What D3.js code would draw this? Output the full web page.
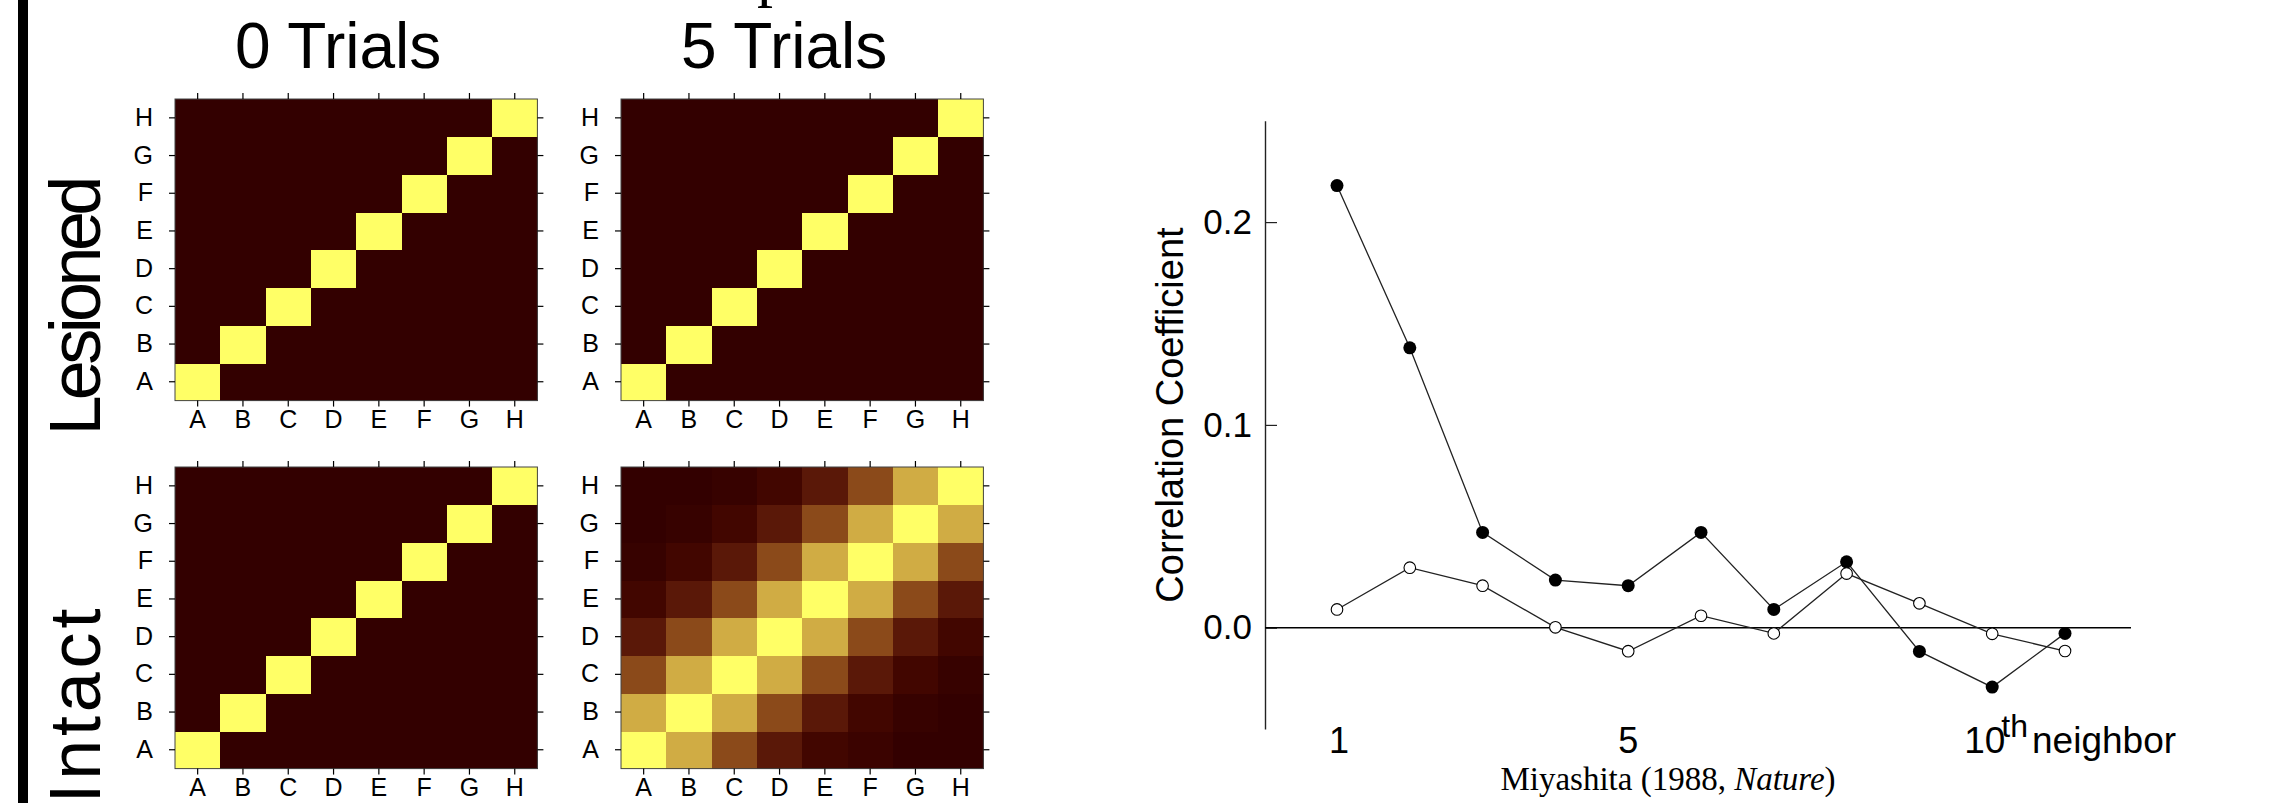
<!DOCTYPE html>
<html>
<head>
<meta charset="utf-8">
<script src="https://cdn.jsdelivr.net/npm/d3@7"></script>
<style>
  html, body { margin: 0; padding: 0; background: #fff; }
  svg { display: block; }
  text { font-family: "Liberation Sans", Arial, sans-serif; fill: #000; }
</style>
</head>
<body>
<svg id="chart" width="2272" height="803"></svg>
<script>
// stimulus labels, rows listed bottom (A) to top (H)
const stimuli = ["A", "B", "C", "D", "E", "F", "G", "H"];

// correlation after 0 trials / lesioned network: only the diagonal is active
const identityMatrix = [
  [1, 0, 0, 0, 0, 0, 0, 0],
  [0, 1, 0, 0, 0, 0, 0, 0],
  [0, 0, 1, 0, 0, 0, 0, 0],
  [0, 0, 0, 1, 0, 0, 0, 0],
  [0, 0, 0, 0, 1, 0, 0, 0],
  [0, 0, 0, 0, 0, 1, 0, 0],
  [0, 0, 0, 0, 0, 0, 1, 0],
  [0, 0, 0, 0, 0, 0, 0, 1]
];

// intact network after 5 trials (row A first)
const intact5Matrix = [
  [1.0, 0.8, 0.6, 0.4, 0.2, 0.1, 0.0, 0.0],
  [0.8, 1.0, 0.8, 0.6, 0.4, 0.2, 0.05, 0.0],
  [0.6, 0.8, 1.0, 0.8, 0.6, 0.4, 0.2, 0.05],
  [0.4, 0.6, 0.8, 1.0, 0.8, 0.6, 0.4, 0.2],
  [0.2, 0.4, 0.6, 0.8, 1.0, 0.8, 0.6, 0.4],
  [0.05, 0.2, 0.4, 0.6, 0.8, 1.0, 0.8, 0.6],
  [0.0, 0.05, 0.2, 0.4, 0.6, 0.8, 1.0, 0.8],
  [0.0, 0.0, 0.05, 0.2, 0.4, 0.6, 0.8, 1.0]
];

const panelTitles = ["0 Trials", "5 Trials"];
const conditionLabels = ["Lesioned", "Intact"];

// Miyashita neighbor correlations
const neighbors = [1, 2, 3, 4, 5, 6, 7, 8, 9, 10, 11];
const learnedCorr = [0.218, 0.138, 0.047, 0.0235, 0.0207, 0.047, 0.009, 0.0325, -0.0117, -0.0293, -0.0028];
const newCorr = [0.009, 0.0296, 0.0207, 0.0002, -0.0116, 0.0059, -0.0028, 0.0267, 0.012, -0.003, -0.0115];
const yTicks = [0, 0.1, 0.2];
const xTicks = [1, 5];

const svg = d3.select("#chart");

svg.append("rect")
  .attr("width", 2272).attr("height", 803).attr("fill", "#fff");

// black bar at the left edge
svg.append("rect")
  .attr("x", 18).attr("y", 0).attr("width", 10).attr("height", 803)
  .attr("fill", "#000");

// cut-off letter of a title above the panels
svg.append("text")
  .attr("x", 757).attr("y", -6)
  .style("font-family", "'Liberation Serif', 'Times New Roman', serif")
  .style("font-size", "64px")
  .text("p");

// ---------- heatmaps ----------
const hmW = 362.4, hmH = 301.6;
const hmLeft = [175, 621];
const hmTop = [99, 467];

const color = d3.scaleLinear()
  .domain([0, 0.2, 0.4, 0.6, 0.8, 1])
  .range(["#330000", "#420600", "#5a1808", "#8b4a1a", "#d0ac44", "#ffff66"]);

const xBand = d3.scaleBand().domain(stimuli).range([0, hmW]);
const yBand = d3.scaleBand().domain(stimuli).range([hmH, 0]);

const panels = [
  { r: 0, c: 0, data: identityMatrix },
  { r: 0, c: 1, data: identityMatrix },
  { r: 1, c: 0, data: identityMatrix },
  { r: 1, c: 1, data: intact5Matrix }
];

panels.forEach(p => {
  const g = svg.append("g")
    .attr("transform", `translate(${hmLeft[p.c]},${hmTop[p.r]})`);

  g.append("rect")
    .attr("width", hmW).attr("height", hmH)
    .attr("fill", color(0));

  const cells = [];
  p.data.forEach((row, ri) => row.forEach((v, ci) => cells.push({ row: stimuli[ri], col: stimuli[ci], v })));

  g.selectAll("rect.cell")
    .data(cells)
    .join("rect")
    .attr("class", "cell")
    .attr("x", d => xBand(d.col))
    .attr("y", d => yBand(d.row))
    .attr("width", xBand.bandwidth() + 0.6)
    .attr("height", yBand.bandwidth() + 0.6)
    .attr("shape-rendering", "crispEdges")
    .attr("fill", d => color(d.v));

  g.append("rect")
    .attr("width", hmW).attr("height", hmH)
    .attr("fill", "none").attr("stroke", "#444").attr("stroke-width", 1);

  const axes = [
    { ax: d3.axisBottom(xBand).tickPadding(4), t: `translate(0,${hmH})` },
    { ax: d3.axisTop(xBand).tickFormat(""), t: "translate(0,0)" },
    { ax: d3.axisLeft(yBand).tickPadding(16), t: "translate(0,0)" },
    { ax: d3.axisRight(yBand).tickFormat(""), t: `translate(${hmW},0)` }
  ];
  axes.forEach(a => {
    const ag = g.append("g").attr("transform", a.t)
      .call(a.ax.tickSizeInner(6).tickSizeOuter(0));
    ag.select(".domain").remove();
    ag.selectAll("line").attr("stroke", "#000").attr("stroke-width", 1.2);
    ag.selectAll("text")
      .style("font-family", "'Liberation Sans', Arial, sans-serif")
      .style("font-size", "25px")
      .attr("fill", "#000");
  });
});

// column titles
panelTitles.forEach((t, i) => {
  svg.append("text")
    .attr("x", hmLeft[i] + hmW / 2 - 18)
    .attr("y", 68)
    .attr("text-anchor", "middle")
    .style("font-size", "64px")
    .text(t);
});

// row labels
conditionLabels.forEach((t, i) => {
  const startY = hmTop[i] + hmH + 35;
  svg.append("text")
    .attr("transform", `translate(100,${startY}) rotate(-90)`)
    .attr("textLength", t.length * 32.5)
    .attr("lengthAdjust", "spacing")
    .style("font-size", "72px")
    .text(t);
});

// ---------- line chart ----------
const x = d3.scaleLinear().domain([1, 11]).range([1337, 2065]);
const y = d3.scaleLinear().domain([-0.05, 0.25]).range([729.1, 120.7]);
const axisX = 1265;

const yAxis = svg.append("g")
  .attr("transform", `translate(${axisX},0)`)
  .call(d3.axisLeft(y).tickValues(yTicks).tickFormat(d3.format(".1f"))
    .tickSizeInner(-12).tickSizeOuter(0).tickPadding(13));
yAxis.select(".domain").attr("stroke", "#222").attr("stroke-width", 1.4);
yAxis.selectAll("line").attr("stroke", "#222").attr("stroke-width", 1.2);
yAxis.selectAll("text")
  .style("font-family", "'Liberation Sans', Arial, sans-serif")
  .style("font-size", "35px")
  .attr("fill", "#000");

// zero line
svg.append("line")
  .attr("x1", axisX).attr("x2", 2131)
  .attr("y1", y(0)).attr("y2", y(0))
  .attr("stroke", "#000").attr("stroke-width", 1.6);

// y axis title
svg.append("text")
  .attr("transform", `translate(1183,415) rotate(-90)`)
  .attr("text-anchor", "middle")
  .style("font-size", "38px")
  .text("Correlation Coefficient");

// x tick labels
svg.selectAll("text.xtick")
  .data(xTicks)
  .join("text")
  .attr("class", "xtick")
  .attr("x", d => x(d) + (d === 1 ? 2 : 0))
  .attr("y", 752.5)
  .attr("text-anchor", "middle")
  .style("font-size", "36px")
  .text(d => d);

const tenth = svg.append("text")
  .attr("x", x(10) - 28)
  .attr("y", 753)
  .style("font-size", "37px");
tenth.append("tspan").text("10");
tenth.append("tspan").attr("dx", -4).attr("dy", -16).style("font-size", "32px").text("th");
tenth.append("tspan").attr("dx", 4).attr("dy", 16).text("neighbor");

// caption
const cap = svg.append("text")
  .attr("x", 1668).attr("y", 790)
  .attr("text-anchor", "middle")
  .style("font-family", "'Liberation Serif', 'Times New Roman', serif")
  .style("font-size", "33px");
cap.append("tspan").text("Miyashita (1988, ");
cap.append("tspan").style("font-style", "italic").text("Nature");
cap.append("tspan").text(")");

const line = d3.line()
  .x((d, i) => x(neighbors[i]))
  .y(d => y(d));

svg.append("path")
  .datum(learnedCorr)
  .attr("d", line)
  .attr("fill", "none").attr("stroke", "#222").attr("stroke-width", 1.3);

svg.append("path")
  .datum(newCorr)
  .attr("d", line)
  .attr("fill", "none").attr("stroke", "#222").attr("stroke-width", 1.3);

svg.selectAll("circle.learned")
  .data(learnedCorr)
  .join("circle")
  .attr("class", "learned")
  .attr("cx", (d, i) => x(neighbors[i]))
  .attr("cy", d => y(d))
  .attr("r", 6.5)
  .attr("fill", "#000");

svg.selectAll("circle.new")
  .data(newCorr)
  .join("circle")
  .attr("class", "new")
  .attr("cx", (d, i) => x(neighbors[i]))
  .attr("cy", d => y(d))
  .attr("r", 5.8)
  .attr("fill", "#fff")
  .attr("stroke", "#000")
  .attr("stroke-width", 1.1);
</script>
</body>
</html>
